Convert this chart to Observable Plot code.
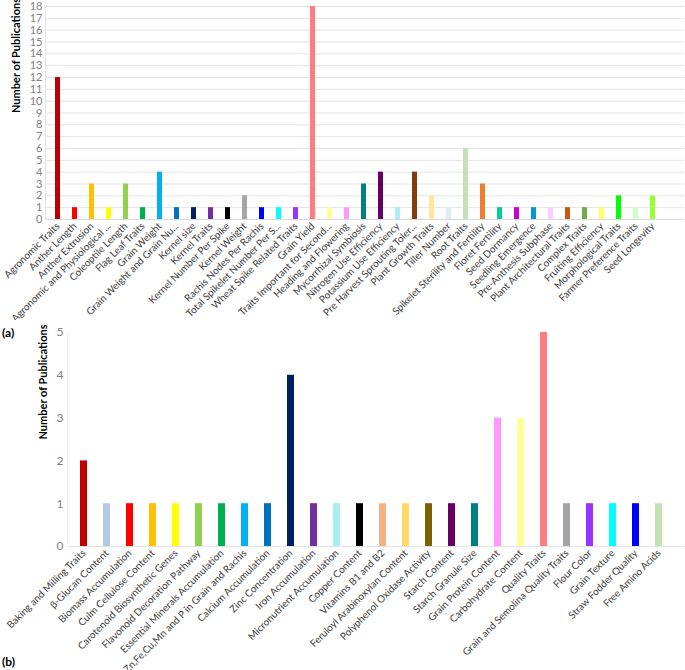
<!DOCTYPE html>
<html>
<head>
<meta charset="utf-8">
<script src="https://cdn.jsdelivr.net/npm/d3@7"></script>
<script src="https://cdn.jsdelivr.net/npm/@observablehq/plot@0.6"></script>
<style>
  body { margin: 0; background: white; }
  #wrap { position: relative; width: 685px; height: 670px; font-family: Lato, "Open Sans", sans-serif; }
  #top, #bottom { position: absolute; left: 0; }
  #top { top: 0; }
  #bottom { top: 320px; }
  .panel { position: absolute; left: 2px; font-weight: bold; font-size: 12px; color: #000; }
</style>
</head>
<body>
<div id="wrap">
  <div id="top"></div>
  <div id="bottom"></div>
  <div class="panel" style="top:325px">(a)</div>
  <div class="panel" style="top:654px">(b)</div>
</div>
<script>
const topCategories = [
  "Agronomic Traits", "Anther Length", "Anther Extrusion", "Agronomic and Physiological ...",
  "Coleoptile Length", "Flag Leaf Traits", "Grain Weight", "Grain Weight and Grain Nu...",
  "Kernel size", "Kernel Traits", "Kernel Number Per Spike", "Kernel Weight",
  "Rachis Nodes Per Rachis", "Total Spikelet Number Per S...", "Wheat Spike Related Traits", "Grain Yield",
  "Traits Important for Second...", "Heading and Flowering", "Mycorrhizal Symbiosis", "Nitrogen Use Efficiency",
  "Potassium Use Efficiency", "Pre Harvest Sprouting Toler...", "Plant Growth Traits", "Tiller Number",
  "Root Traits", "Spikelet Sterility and Fertility", "Floret Fertility", "Seed Dormancy",
  "Seedling Emergence", "Pre-Anthesis Subphase", "Plant Architectural Traits", "Complex Traits",
  "Fruiting Efficiency", "Morphological Traits", "Farmer Preference Traits", "Seed Longevity"
];
const topValues = [12, 1, 3, 1, 3, 1, 4, 1, 1, 1, 1, 2, 1, 1, 1, 18, 1, 1, 3, 4, 1, 4, 2, 1, 6, 3, 1, 1, 1, 1, 1, 1, 1, 2, 1, 2];
const topColors = [
  "#C00000", "#FF0000", "#FFC000", "#FFFF00", "#92D050", "#00B050", "#00B0F0", "#0070C0",
  "#002060", "#7030A0", "#000000", "#A5A5A5", "#0000FF", "#00FFFF", "#9933FF", "#FF7C80",
  "#FFFF99", "#FF99FF", "#008080", "#660066", "#A9EEF0", "#843C0C", "#FFE699", "#DDEBF7",
  "#C5E0B4", "#ED7D31", "#00CC99", "#CC00CC", "#0099CC", "#FFCCFF", "#C55A11", "#70AD47",
  "#FFFF66", "#00FF00", "#CCFFCC", "#99FF33"
];
const topTicks = d3.range(0, 19);

const bottomCategories = [
  "Baking and Milling Traits", "β-Glucan Content", "Biomass Accumulation", "Culm Cellulose Content",
  "Carotenoid Biosynthetic Genes", "Flavonoid Decoration Pathway", "Essential Minerals Accumulation",
  "Zn,Fe,Cu,Mn and P in Grain and Rachis", "Calcium Accumulation", "Zinc Concentration",
  "Iron Accumulation", "Micronutrient Accumulation", "Copper Content", "Vitamins B1 and B2",
  "Feruloyl Arabinoxylan Content", "Polyphenol Oxidase Activity", "Starch Content", "Starch Granule Size",
  "Grain Protein Content", "Carbohydrate Content", "Quality Traits", "Grain and Semolina Quality Traits",
  "Flour Color", "Grain Texture", "Straw Fodder Quality", "Free Amino Acids"
];
const bottomValues = [2, 1, 1, 1, 1, 1, 1, 1, 1, 4, 1, 1, 1, 1, 1, 1, 1, 1, 3, 3, 5, 1, 1, 1, 1, 1];
const bottomColors = [
  "#C00000", "#B4C7E7", "#FF0000", "#FFC000", "#FFFF00", "#92D050", "#00B050", "#00B0F0",
  "#0070C0", "#002060", "#7030A0", "#A9EEF0", "#000000", "#F4B183", "#FFD966", "#7F6000",
  "#660066", "#008080", "#FF99FF", "#FFFF99", "#FF7C80", "#A5A5A5", "#9933FF", "#00FFFF",
  "#0000FF", "#C5E0B4"
];
const bottomTicks = d3.range(0, 6);

const topData = topCategories.map((c, i) => ({category: c, value: topValues[i]}));
const bottomData = bottomCategories.map((c, i) => ({category: c, value: bottomValues[i]}));

const font = {fontFamily: "Lato, 'Open Sans', sans-serif", fontSize: "10px", background: "white", overflow: "visible"};

const topChart = Plot.plot({
  width: 685, height: 320,
  marginTop: 6, marginBottom: 101, marginLeft: 45, marginRight: 19,
  style: font,
  x: {domain: topCategories, paddingInner: 0.68, paddingOuter: 0.26, label: null},
  y: {domain: [0, 18], label: null},
  color: {domain: topCategories, range: topColors},
  marks: [
    Plot.gridY(topTicks, {stroke: "#e3e3e3", strokeOpacity: 1, insetRight: -18}),
    Plot.axisY(topTicks, {tickSize: 0, tickPadding: 3, fill: "#808080", fontSize: 11, label: null}),
    Plot.axisX({tickSize: 0, tickRotate: -45, tickPadding: 5, fill: "#404040", label: null}),
    Plot.barY(topData, {x: "category", y: "value", fill: "category"}),
    Plot.ruleY([0], {stroke: "#d9d9d9", insetRight: -18}),
    Plot.frame({anchor: "left", stroke: "#e3e3e3"}),
    Plot.text(["Number of Publications"], {frameAnchor: "left", rotate: -90, dx: -29, fontWeight: "bold", fontSize: 11, fill: "black"})
  ]
});
document.getElementById("top").appendChild(topChart);

const bottomChart = Plot.plot({
  width: 685, height: 350,
  marginTop: 12, marginBottom: 124, marginLeft: 67, marginRight: 9,
  style: font,
  x: {domain: bottomCategories, paddingInner: 0.68, paddingOuter: 0.295, label: null},
  y: {domain: [0, 5], label: null},
  color: {domain: bottomCategories, range: bottomColors},
  marks: [
    Plot.axisY(bottomTicks, {tickSize: 0, tickPadding: 4, fill: "#808080", fontSize: 12, label: null}),
    Plot.axisX({tickSize: 0, tickRotate: -45, tickPadding: 5, fill: "#404040", label: null}),
    Plot.barY(bottomData, {x: "category", y: "value", fill: "category"}),
    Plot.ruleY([0], {stroke: "#e3e3e3", insetRight: -8}),
    Plot.frame({anchor: "left", stroke: "#eeeeee"}),
    Plot.text(["Number of Publications"], {frameAnchor: "left", rotate: -90, dx: -24, fontWeight: "bold", fontSize: 11, fill: "black"})
  ]
});
document.getElementById("bottom").appendChild(bottomChart);
</script>
</body>
</html>
